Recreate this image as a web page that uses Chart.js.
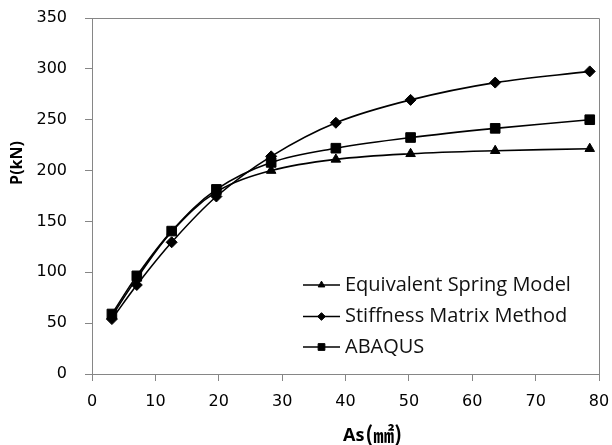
<!DOCTYPE html>
<html>
<head>
<meta charset="utf-8">
<script src="https://cdn.jsdelivr.net/npm/chart.js@4"></script>
<style>
  html, body { margin: 0; padding: 0; background: #ffffff; }
</style>
</head>
<body>
<canvas id="chart" width="612" height="445"></canvas>
<script>
// Wire cross-section area (mm^2) vs. load P (kN)
const areas = [3.14, 7.07, 12.57, 19.63, 28.27, 38.48, 50.27, 63.62, 78.54];
const springModel = [57, 94, 140, 179, 200, 211, 216.5, 219.5, 221.5];
const stiffnessMatrix = [54, 87.5, 129.5, 174.5, 214, 247, 269.5, 286.5, 297.5];
const abaqus = [59, 96.5, 140.5, 181.5, 208, 222, 232.5, 241.5, 250];

const seriesNames = ['Equivalent Spring Model', 'Stiffness Matrix Method', 'ABAQUS'];
const xTicks = [0, 10, 20, 30, 40, 50, 60, 70, 80];
const yTicks = [0, 50, 100, 150, 200, 250, 300, 350];
const xTitle = 'As';
const xUnit = '(㎟)';
const yTitle = 'P(kN)';

const axisGray = '#868686';
const textColor = '#000000';

function toPoints(ys) {
    return areas.map((x, i) => ({ x: x, y: ys[i] }));
}

function series(label, ys, style, radius, order) {
    return {
        label: label,
        data: toPoints(ys),
        borderColor: '#000000',
        backgroundColor: '#000000',
        borderWidth: 1.6,
        tension: 0.35,
        pointStyle: style,
        pointRadius: radius,
        pointBorderWidth: 1,
        pointBorderColor: '#000000',
        pointBackgroundColor: '#000000',
        order: order
    };
}

// Draws plot box, axis titles and the in-plot legend
const decorations = {
    id: 'decorations',
    afterDraw(chart) {
        const ctx = chart.ctx;
        const a = chart.chartArea;
        ctx.save();

        // top and right edges of the plot box
        ctx.strokeStyle = axisGray;
        ctx.lineWidth = 1;
        ctx.beginPath();
        ctx.moveTo(Math.round(a.left), Math.round(a.top) + 0.5);
        ctx.lineTo(Math.round(a.right) + 0.5, Math.round(a.top) + 0.5);
        ctx.lineTo(Math.round(a.right) + 0.5, Math.round(a.bottom));
        ctx.stroke();

        // y title
        ctx.fillStyle = textColor;
        ctx.save();
        ctx.translate(17, 163);
        ctx.rotate(-Math.PI / 2);
        ctx.textAlign = 'center';
        ctx.textBaseline = 'middle';
        ctx.font = 'bold 16px "Open Sans"';
        ctx.fillText(yTitle, 0, 0);
        ctx.restore();

        // x title
        ctx.textAlign = 'left';
        ctx.textBaseline = 'alphabetic';
        ctx.font = 'bold 18px "Open Sans"';
        ctx.fillText(xTitle, 343, 441);
        const w = ctx.measureText(xTitle).width;
        ctx.font = 'bold 21px "Noto Sans CJK KR"';
        ctx.fillText(xUnit, 343 + w + 1, 442);

        // legend
        const rows = [a.bottom - 89, a.bottom - 57.5, a.bottom - 27];
        chart.data.datasets.forEach((ds, i) => {
            const y = rows[i];
            const x0 = a.left + 211, x1 = a.left + 248;
            ctx.strokeStyle = '#000000';
            ctx.lineWidth = 1.6;
            ctx.beginPath();
            ctx.moveTo(x0, y);
            ctx.lineTo(x1, y);
            ctx.stroke();
            ctx.fillStyle = '#000000';
            ctx.lineWidth = 1;
            Chart.helpers.drawPoint(ctx, {
                pointStyle: ds.pointStyle,
                radius: ds.pointRadius * 0.7,
                rotation: 0,
                borderWidth: 1
            }, (x0 + x1) / 2, y);
            ctx.fillStyle = '#111111';
            ctx.font = '20px "Open Sans"';
            ctx.textBaseline = 'middle';
            ctx.fillText(ds.label, a.left + 253, y);
        });

        ctx.restore();
    }
};

const ctx = document.getElementById('chart').getContext('2d');
new Chart(ctx, {
    type: 'line',
    data: {
        datasets: [
            series(seriesNames[0], springModel, 'triangle', 5.5, 2),
            series(seriesNames[1], stiffnessMatrix, 'rectRot', 5.5, 1),
            series(seriesNames[2], abaqus, 'rect', 6.8, 0)
        ]
    },
    options: {
        responsive: false,
        animation: false,
        layout: {
            padding: { top: 18, right: 13, left: 0, bottom: 0 }
        },
        plugins: {
            legend: { display: false },
            tooltip: { enabled: false }
        },
        scales: {
            x: {
                type: 'linear',
                min: 0,
                max: 80,
                afterBuildTicks: s => { s.ticks = xTicks.map(v => ({ value: v })); },
                afterFit: s => { s.height = 71; s.paddingLeft = 0; s.paddingRight = 0; },
                ticks: {
                    color: textColor,
                    font: { family: '"DejaVu Sans"', size: 16 },
                    padding: 11,
                    maxRotation: 0
                },
                grid: {
                    drawOnChartArea: false,
                    drawTicks: true,
                    tickLength: 7,
                    color: axisGray
                },
                border: { color: axisGray, width: 1 }
            },
            y: {
                min: 0,
                max: 350,
                afterBuildTicks: s => { s.ticks = yTicks.map(v => ({ value: v })); },
                afterFit: s => { s.width = 92; s.paddingTop = 0; s.paddingBottom = 0; },
                ticks: {
                    color: textColor,
                    font: { family: '"DejaVu Sans"', size: 16 },
                    padding: 18
                },
                grid: {
                    drawOnChartArea: false,
                    drawTicks: true,
                    tickLength: 7,
                    color: axisGray
                },
                border: { color: axisGray, width: 1 }
            }
        }
    },
    plugins: [decorations]
});
</script>
</body>
</html>
